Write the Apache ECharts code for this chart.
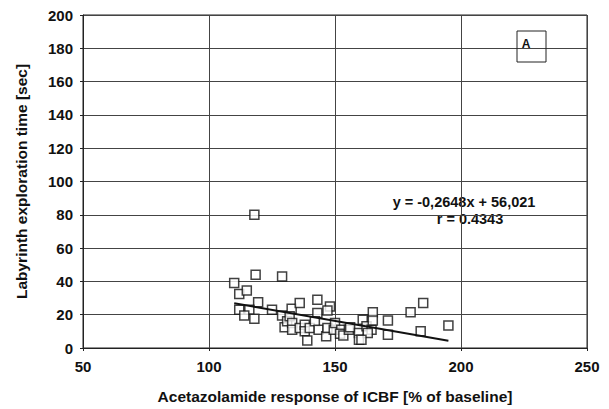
<!DOCTYPE html>
<html>
<head>
<meta charset="utf-8">
<script src="https://cdn.jsdelivr.net/npm/echarts@6/dist/echarts.min.js"></script>
<style>
  html, body { margin: 0; padding: 0; background: #fff; }
  #chart { width: 609px; height: 409px; }
</style>
</head>
<body>
<div id="chart"></div>
<script>
// acetazolamide response (% of baseline), labyrinth exploration time (sec)
var acetResponse = [118, 118.5, 129, 110, 112, 115, 119.5, 112, 116, 114, 118, 125, 129, 130, 131,
  132.8, 132, 133, 133, 136, 143, 148, 147, 143, 136, 138, 138, 140, 139, 142, 143.5, 146.5, 147,
  149.5, 150, 152.5, 152, 153.3, 155.5, 156, 159.5, 159.5, 161, 162.5, 164.5, 163, 160.5, 165, 165,
  171, 171, 180, 185, 184, 195];
var exploreTime = [80, 44, 43, 39, 32.5, 34.5, 27.5, 23, 23, 19.5, 17.5, 23, 19.5, 12.5, 16,
  23.5, 19, 15, 11, 27, 29, 25, 22.5, 21, 12, 14, 10, 12, 4.5, 16, 11, 7, 12,
  11, 15, 11, 8.5, 7.5, 11, 12.5, 9, 5, 17, 13, 11, 9, 5, 21.5, 16.5,
  16.5, 8, 21.5, 27, 10, 13.5];
var slope = -0.2648;
var intercept = 56.021;
var trendX = [110, 195];

var points = acetResponse.map(function (x, i) { return [x, exploreTime[i]]; });
var trend = trendX.map(function (x) { return [x, slope * x + intercept]; });

var font = 'Liberation Sans, Arial, sans-serif';
var chart = echarts.init(document.getElementById('chart'), null, { renderer: 'svg' });
chart.setOption({
  animation: false,
  backgroundColor: '#fff',
  grid: { left: 83, right: 22, top: 15, bottom: 61, show: true, borderColor: '#222', borderWidth: 1 },
  xAxis: {
    type: 'value', min: 50, max: 250, interval: 50,
    name: 'Acetazolamide response of ICBF [% of baseline]',
    nameLocation: 'middle', nameGap: 40,
    nameTextStyle: { fontFamily: font, fontWeight: 'bold', fontSize: 15.5, color: '#111' },
    axisLine: { lineStyle: { color: '#222' } },
    axisTick: { show: true, inside: false, length: 3, lineStyle: { color: '#222' } },
    axisLabel: { fontFamily: font, fontWeight: 'bold', fontSize: 15, color: '#111', margin: 11 },
    splitLine: { show: true, lineStyle: { color: '#444', width: 1 } }
  },
  yAxis: {
    type: 'value', min: 0, max: 200, interval: 20,
    name: 'Labyrinth exploration time [sec]',
    nameLocation: 'middle', nameGap: 54, nameRotate: 90,
    nameTextStyle: { fontFamily: font, fontWeight: 'bold', fontSize: 15.5, color: '#111' },
    axisLine: { show: true, lineStyle: { color: '#222' } },
    axisTick: { show: true, length: 3, lineStyle: { color: '#222' } },
    axisLabel: { fontFamily: font, fontWeight: 'bold', fontSize: 15, color: '#111', margin: 10 },
    splitLine: { show: true, lineStyle: { color: '#444', width: 1 } }
  },
  series: [
    {
      type: 'scatter',
      data: points,
      symbol: 'rect',
      symbolSize: 9,
      itemStyle: { color: '#fff', borderColor: '#111', borderWidth: 1.5 },
      z: 3
    },
    {
      type: 'line',
      data: trend,
      symbol: 'none',
      lineStyle: { color: '#111', width: 2 },
      z: 4
    }
  ],
  graphic: [
    { type: 'text', x: 464, y: 202,
      style: { text: 'y = -0,2648x + 56,021', font: 'bold 14.5px ' + font, fill: '#111',
        align: 'center', verticalAlign: 'middle' } },
    { type: 'text', x: 470, y: 219,
      style: { text: 'r = 0.4343', font: 'bold 14.5px ' + font, fill: '#111',
        align: 'center', verticalAlign: 'middle' } },
    { type: 'rect', shape: { x: 517, y: 31, width: 29, height: 31 },
      style: { fill: 'none', stroke: '#222', lineWidth: 1 }, z: 10 },
    { type: 'text', x: 526, y: 44, z: 11,
      style: { text: 'A', font: 'bold 12px ' + font, fill: '#111',
        align: 'center', verticalAlign: 'middle' } }
  ]
});
</script>
</body>
</html>
